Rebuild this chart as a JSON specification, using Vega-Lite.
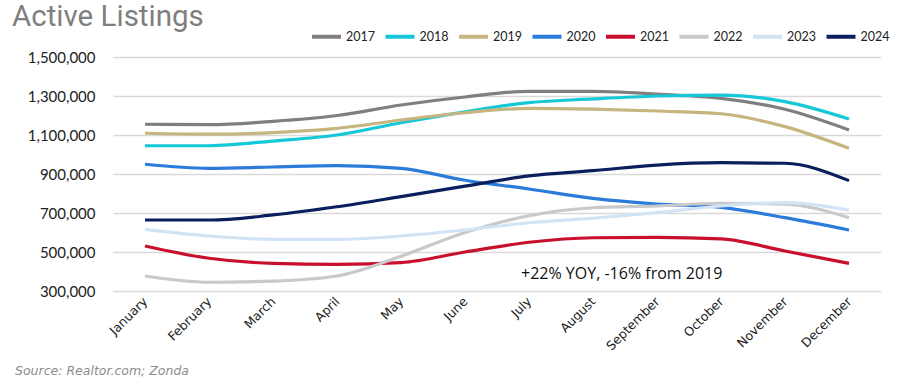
{
  "$schema": "https://vega.github.io/schema/vega-lite/v6.json",
  "width": 768,
  "height": 234,
  "autosize": {"type": "none"},
  "padding": {"left": 113, "top": 57, "right": 19, "bottom": 99},
  "background": "white",
  "config": {"view": {"stroke": null}, "font": "Lato"},
  "title": {"text": "Active Listings", "anchor": "start", "frame": "group", "dx": -101, "dy": 32, "offset": 20, "fontSize": 29.5, "fontWeight": "normal", "color": "#7f7f7f", "font": "Roboto"},
  "datasets": {
    "listings": [
      {"year": "2017", "month": "January", "value": 1155000},
      {"year": "2017", "month": "February", "value": 1153000},
      {"year": "2017", "month": "March", "value": 1170000},
      {"year": "2017", "month": "April", "value": 1200000},
      {"year": "2017", "month": "May", "value": 1254000},
      {"year": "2017", "month": "June", "value": 1295000},
      {"year": "2017", "month": "July", "value": 1324000},
      {"year": "2017", "month": "August", "value": 1324000},
      {"year": "2017", "month": "September", "value": 1310000},
      {"year": "2017", "month": "October", "value": 1288000},
      {"year": "2017", "month": "November", "value": 1232000},
      {"year": "2017", "month": "December", "value": 1126000},
      {"year": "2018", "month": "January", "value": 1045000},
      {"year": "2018", "month": "February", "value": 1045000},
      {"year": "2018", "month": "March", "value": 1069000},
      {"year": "2018", "month": "April", "value": 1100000},
      {"year": "2018", "month": "May", "value": 1163000},
      {"year": "2018", "month": "June", "value": 1219000},
      {"year": "2018", "month": "July", "value": 1266000},
      {"year": "2018", "month": "August", "value": 1285000},
      {"year": "2018", "month": "September", "value": 1300000},
      {"year": "2018", "month": "October", "value": 1305000},
      {"year": "2018", "month": "November", "value": 1271000},
      {"year": "2018", "month": "December", "value": 1182000},
      {"year": "2019", "month": "January", "value": 1109000},
      {"year": "2019", "month": "February", "value": 1104000},
      {"year": "2019", "month": "March", "value": 1112000},
      {"year": "2019", "month": "April", "value": 1134000},
      {"year": "2019", "month": "May", "value": 1177000},
      {"year": "2019", "month": "June", "value": 1214000},
      {"year": "2019", "month": "July", "value": 1237000},
      {"year": "2019", "month": "August", "value": 1233000},
      {"year": "2019", "month": "September", "value": 1223000},
      {"year": "2019", "month": "October", "value": 1209000},
      {"year": "2019", "month": "November", "value": 1143000},
      {"year": "2019", "month": "December", "value": 1032000},
      {"year": "2020", "month": "January", "value": 950000},
      {"year": "2020", "month": "February", "value": 929000},
      {"year": "2020", "month": "March", "value": 936000},
      {"year": "2020", "month": "April", "value": 943000},
      {"year": "2020", "month": "May", "value": 929000},
      {"year": "2020", "month": "June", "value": 868000},
      {"year": "2020", "month": "July", "value": 823000},
      {"year": "2020", "month": "August", "value": 775000},
      {"year": "2020", "month": "September", "value": 746000},
      {"year": "2020", "month": "October", "value": 729000},
      {"year": "2020", "month": "November", "value": 676000},
      {"year": "2020", "month": "December", "value": 613000},
      {"year": "2021", "month": "January", "value": 531000},
      {"year": "2021", "month": "February", "value": 468000},
      {"year": "2021", "month": "March", "value": 442000},
      {"year": "2021", "month": "April", "value": 437000},
      {"year": "2021", "month": "May", "value": 446000},
      {"year": "2021", "month": "June", "value": 500000},
      {"year": "2021", "month": "July", "value": 550000},
      {"year": "2021", "month": "August", "value": 573000},
      {"year": "2021", "month": "September", "value": 575000},
      {"year": "2021", "month": "October", "value": 567000},
      {"year": "2021", "month": "November", "value": 505000},
      {"year": "2021", "month": "December", "value": 442000},
      {"year": "2022", "month": "January", "value": 377000},
      {"year": "2022", "month": "February", "value": 345000},
      {"year": "2022", "month": "March", "value": 351000},
      {"year": "2022", "month": "April", "value": 377000},
      {"year": "2022", "month": "May", "value": 478000},
      {"year": "2022", "month": "June", "value": 600000},
      {"year": "2022", "month": "July", "value": 686000},
      {"year": "2022", "month": "August", "value": 727000},
      {"year": "2022", "month": "September", "value": 736000},
      {"year": "2022", "month": "October", "value": 750000},
      {"year": "2022", "month": "November", "value": 745000},
      {"year": "2022", "month": "December", "value": 676000},
      {"year": "2023", "month": "January", "value": 616000},
      {"year": "2023", "month": "February", "value": 582000},
      {"year": "2023", "month": "March", "value": 565000},
      {"year": "2023", "month": "April", "value": 565000},
      {"year": "2023", "month": "May", "value": 582000},
      {"year": "2023", "month": "June", "value": 613000},
      {"year": "2023", "month": "July", "value": 650000},
      {"year": "2023", "month": "August", "value": 673000},
      {"year": "2023", "month": "September", "value": 702000},
      {"year": "2023", "month": "October", "value": 736000},
      {"year": "2023", "month": "November", "value": 753000},
      {"year": "2023", "month": "December", "value": 715000},
      {"year": "2024", "month": "January", "value": 664000},
      {"year": "2024", "month": "February", "value": 664000},
      {"year": "2024", "month": "March", "value": 690000},
      {"year": "2024", "month": "April", "value": 732000},
      {"year": "2024", "month": "May", "value": 784000},
      {"year": "2024", "month": "June", "value": 838000},
      {"year": "2024", "month": "July", "value": 890000},
      {"year": "2024", "month": "August", "value": 917000},
      {"year": "2024", "month": "September", "value": 946000},
      {"year": "2024", "month": "October", "value": 958000},
      {"year": "2024", "month": "November", "value": 955000},
      {"year": "2024", "month": "December", "value": 866000}
    ],
    "note": [
      {"month": "July", "value": 387000, "label": "+22% YOY, -16% from 2019"}
    ],
    "source": [
      {"month": "January", "value": 300000, "label": "Source: Realtor.com; Zonda"}
    ]
  },
  "encoding": {
    "x": {
      "field": "month", "type": "ordinal",
      "sort": ["January","February","March","April","May","June","July","August","September","October","November","December"],
      "scale": {"type": "point", "padding": 0.5},
      "axis": {"title": null, "domain": false, "ticks": false, "labelAngle": -45, "labelAlign": "right", "labelBaseline": "middle", "labelPadding": 8, "labelFontSize": 12.5, "labelColor": "#222222", "labelFont": "DejaVu Sans", "grid": false}
    },
    "y": {
      "field": "value", "type": "quantitative",
      "scale": {"domain": [300000, 1500000], "nice": false, "zero": false},
      "axis": {"title": null, "values": [300000, 500000, 700000, 900000, 1100000, 1300000, 1500000], "format": ",.0f", "domain": false, "ticks": false, "labelPadding": 18, "labelFontSize": 15, "labelColor": "#222222", "labelFont": "Lato", "gridColor": "#d9d9d9", "gridWidth": 1.5}
    }
  },
  "layer": [
    {
      "data": {"name": "listings"},
      "mark": {"type": "line", "strokeWidth": 3.2, "interpolate": "monotone"},
      "encoding": {
        "color": {
          "field": "year", "type": "nominal",
          "scale": {"domain": ["2017","2018","2019","2020","2021","2022","2023","2024"], "range": ["#7f7f7f","#14c8d8","#c6b57f","#2b7bdb","#c8102e","#c9c9c9","#d2e3f6","#0b1f5e"]},
          "legend": {"title": null, "orient": "none", "legendX": 197, "legendY": -37, "direction": "horizontal", "symbolType": "stroke", "symbolSize": 841, "symbolStrokeWidth": 4, "labelFontSize": 12.5, "labelFont": "Lato", "labelColor": "#222222", "labelOffset": 3, "columnPadding": 2.5}
        }
      }
    },
    {
      "data": {"name": "note"},
      "mark": {"type": "text", "align": "left", "baseline": "middle", "dx": -8, "fontSize": 16, "font": "Open Sans", "color": "#111111"},
      "encoding": {"text": {"field": "label"}}
    },
    {
      "data": {"name": "source"},
      "mark": {"type": "text", "align": "left", "baseline": "middle", "dx": -130, "dy": 80, "fontSize": 12.5, "fontStyle": "italic", "font": "DejaVu Sans", "color": "#8c8c8c"},
      "encoding": {"text": {"field": "label"}}
    }
  ]
}
